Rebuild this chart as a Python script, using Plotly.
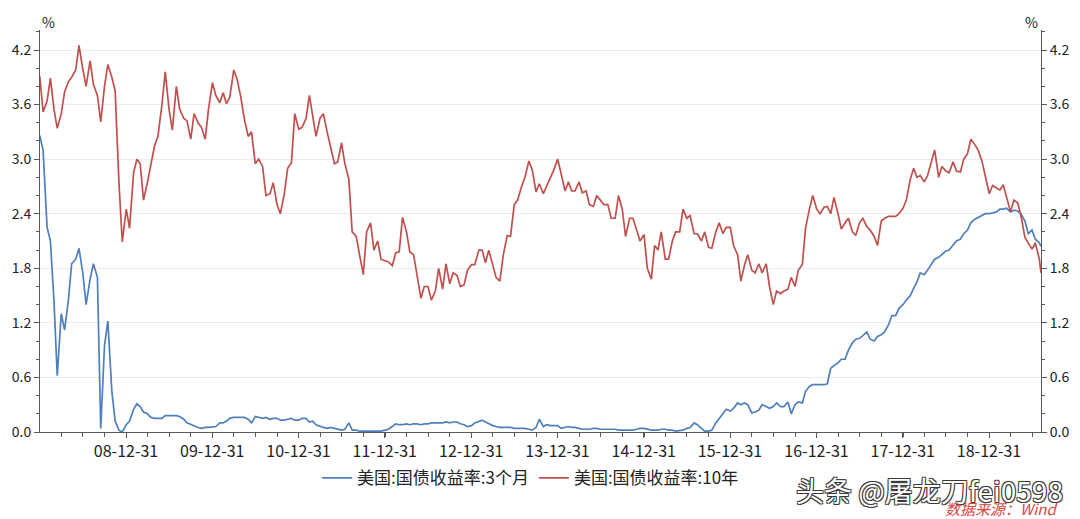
import pandas as pd
import plotly.graph_objects as go

# semi-monthly observation dates (1st and 15th), last point 2019-08-08
dates = list(pd.date_range("2008-01-01", "2019-08-01", freq="SMS")) + [pd.Timestamp("2019-08-08")]

# US Treasury 3-month yield (%)
y3m = [
    3.26, 3.10, 2.25, 2.10, 1.45, 0.62, 1.30, 1.12, 1.45, 1.85, 1.90, 2.02, 1.75, 1.40, 1.68, 1.85, 1.70, 0.04, 0.95, 1.22, 0.45, 0.12, 0.02, 0.00,  # 2008
    0.08, 0.12, 0.25, 0.31, 0.28, 0.22, 0.20, 0.16, 0.15, 0.15, 0.15, 0.18, 0.18, 0.18, 0.18, 0.17, 0.14, 0.10, 0.08, 0.07, 0.05, 0.04, 0.05, 0.05,  # 2009
    0.06, 0.06, 0.10, 0.10, 0.12, 0.15, 0.16, 0.16, 0.16, 0.16, 0.14, 0.10, 0.17, 0.16, 0.15, 0.16, 0.14, 0.15, 0.15, 0.13, 0.13, 0.14, 0.15, 0.13,  # 2010
    0.13, 0.15, 0.15, 0.11, 0.12, 0.08, 0.06, 0.05, 0.04, 0.05, 0.04, 0.03, 0.02, 0.03, 0.10, 0.02, 0.02, 0.01, 0.01, 0.01, 0.01, 0.01, 0.01, 0.01,  # 2011
    0.02, 0.03, 0.06, 0.09, 0.08, 0.08, 0.09, 0.08, 0.09, 0.09, 0.08, 0.09, 0.09, 0.10, 0.10, 0.10, 0.10, 0.11, 0.10, 0.11, 0.11, 0.09, 0.08, 0.06,  # 2012
    0.07, 0.10, 0.12, 0.13, 0.11, 0.09, 0.07, 0.06, 0.05, 0.05, 0.05, 0.05, 0.04, 0.04, 0.04, 0.04, 0.03, 0.02, 0.05, 0.14, 0.06, 0.08, 0.07, 0.07,  # 2013
    0.07, 0.04, 0.05, 0.06, 0.05, 0.05, 0.04, 0.03, 0.03, 0.03, 0.04, 0.04, 0.03, 0.03, 0.03, 0.03, 0.03, 0.02, 0.02, 0.02, 0.02, 0.02, 0.03, 0.04,  # 2014
    0.04, 0.03, 0.02, 0.02, 0.02, 0.03, 0.03, 0.02, 0.02, 0.01, 0.02, 0.02, 0.04, 0.05, 0.10, 0.08, 0.04, 0.01, 0.01, 0.02, 0.10, 0.15, 0.20, 0.25,  # 2015
    0.23, 0.26, 0.32, 0.30, 0.32, 0.30, 0.21, 0.22, 0.24, 0.30, 0.28, 0.26, 0.28, 0.32, 0.28, 0.28, 0.33, 0.20, 0.30, 0.33, 0.32, 0.45, 0.50, 0.52,  # 2016
    0.52, 0.52, 0.52, 0.53, 0.70, 0.73, 0.76, 0.80, 0.80, 0.90, 0.98, 1.02, 1.03, 1.06, 1.10, 1.02, 1.00, 1.05, 1.07, 1.10, 1.18, 1.28, 1.28, 1.36,  # 2017
    1.40, 1.45, 1.50, 1.58, 1.65, 1.75, 1.73, 1.78, 1.84, 1.90, 1.92, 1.95, 1.99, 2.00, 2.05, 2.10, 2.12, 2.18, 2.22, 2.30, 2.34, 2.36, 2.38, 2.40,  # 2018
    2.40, 2.41, 2.42, 2.45, 2.45, 2.46, 2.42, 2.44, 2.43, 2.40, 2.32, 2.18, 2.22, 2.12, 2.08, 2.04,  # 2019
]

# US Treasury 10-year yield (%)
y10y = [
    3.91, 3.52, 3.64, 3.89, 3.55, 3.34, 3.50, 3.74, 3.85, 3.90, 3.98, 4.25, 3.99, 3.80, 4.08, 3.82, 3.70, 3.41, 3.80, 4.04, 3.90, 3.75, 2.75, 2.09,  # 2008
    2.45, 2.24, 2.85, 3.00, 2.95, 2.55, 2.75, 2.92, 3.15, 3.25, 3.60, 3.96, 3.55, 3.32, 3.80, 3.55, 3.45, 3.42, 3.22, 3.50, 3.40, 3.35, 3.22, 3.55,  # 2009
    3.84, 3.70, 3.62, 3.73, 3.61, 3.68, 3.98, 3.88, 3.68, 3.45, 3.25, 3.30, 2.95, 3.00, 2.92, 2.60, 2.62, 2.74, 2.50, 2.40, 2.62, 2.90, 2.96, 3.50,  # 2010
    3.33, 3.35, 3.45, 3.70, 3.45, 3.25, 3.45, 3.50, 3.30, 3.15, 2.95, 2.97, 3.18, 2.95, 2.78, 2.20, 2.15, 1.95, 1.73, 2.20, 2.30, 2.00, 2.10, 1.90,  # 2011
    1.88, 1.87, 1.83, 1.97, 1.98, 2.36, 2.20, 1.98, 1.95, 1.75, 1.47, 1.60, 1.60, 1.45, 1.55, 1.80, 1.57, 1.85, 1.63, 1.75, 1.72, 1.60, 1.62, 1.78,  # 2012
    1.84, 1.84, 2.00, 2.00, 1.86, 2.00, 1.85, 1.70, 1.66, 1.94, 2.16, 2.15, 2.50, 2.55, 2.70, 2.80, 2.98, 2.88, 2.64, 2.73, 2.62, 2.70, 2.80, 2.88,  # 2013
    3.00, 2.85, 2.65, 2.75, 2.65, 2.65, 2.75, 2.63, 2.65, 2.50, 2.48, 2.60, 2.55, 2.50, 2.50, 2.35, 2.35, 2.60, 2.45, 2.15, 2.35, 2.35, 2.22, 2.10,  # 2014
    2.17, 1.80, 1.68, 2.05, 2.00, 2.20, 1.90, 1.90, 2.10, 2.20, 2.20, 2.45, 2.35, 2.38, 2.18, 2.18, 2.10, 2.20, 2.03, 2.02, 2.20, 2.30, 2.18, 2.25,  # 2015
    2.25, 2.05, 1.95, 1.66, 1.83, 1.95, 1.78, 1.75, 1.85, 1.75, 1.85, 1.60, 1.40, 1.55, 1.52, 1.55, 1.57, 1.70, 1.60, 1.78, 1.84, 2.25, 2.45, 2.60,  # 2016
    2.45, 2.40, 2.47, 2.48, 2.40, 2.58, 2.40, 2.23, 2.30, 2.35, 2.20, 2.16, 2.30, 2.35, 2.26, 2.22, 2.15, 2.05, 2.32, 2.35, 2.37, 2.37, 2.37, 2.40,  # 2017
    2.46, 2.55, 2.78, 2.90, 2.80, 2.82, 2.75, 2.82, 2.97, 3.10, 2.80, 2.92, 2.87, 2.85, 2.97, 2.87, 2.86, 3.00, 3.06, 3.22, 3.16, 3.10, 2.98, 2.82,  # 2018
    2.62, 2.71, 2.68, 2.66, 2.72, 2.59, 2.42, 2.55, 2.52, 2.38, 2.14, 2.08, 2.01, 2.08, 1.90, 1.75,  # 2019
]

tick_years = list(range(2008, 2019))
tick_vals = [f"{y}-12-31" for y in tick_years]
tick_text = [f"{y % 100:02d}-12-31" for y in tick_years]

name_3m = "美国:国债收益率:3个月"
name_10y = "美国:国债收益率:10年"

n = min(len(dates), len(y3m), len(y10y))
dates, y3m, y10y = dates[:n], y3m[:n], y10y[:n]

FONT = "Noto Sans CJK SC, Noto Sans, sans-serif"
AXC = "#595959"

fig = go.Figure()
fig.add_trace(go.Scatter(x=dates, y=y3m, name=name_3m, mode="lines",
                         line=dict(color="#4f7fbd", width=1.7), yaxis="y"))
fig.add_trace(go.Scatter(x=dates, y=y10y, name=name_10y, mode="lines",
                         line=dict(color="#c0504d", width=1.7), yaxis="y2"))

yaxis_common = dict(
    range=[0, 4.42], dtick=0.6, tick0=0, tickformat=".1f",
    ticks="outside", ticklen=5, tickcolor=AXC, tickwidth=1,
    showline=True, linecolor=AXC, linewidth=1, zeroline=False,
    tickfont=dict(family=FONT, size=14, color="#222"),
    minor=dict(dtick=0.2, ticks="outside", ticklen=3, tickcolor=AXC, showgrid=False),
    fixedrange=True,
)

fig.update_layout(
    width=1080, height=519,
    margin=dict(l=40, r=39, t=30, b=87),
    paper_bgcolor="white", plot_bgcolor="white",
    font=dict(family=FONT, color="#222"),
    showlegend=True,
    legend=dict(orientation="h", x=0.49, xanchor="center", y=-0.115, yanchor="middle",
                font=dict(family=FONT, size=17, color="#222"), itemwidth=30,
                bgcolor="rgba(0,0,0,0)"),
    xaxis=dict(
        type="date", range=["2008-01-02", "2019-08-08"],
        tickmode="array", tickvals=tick_vals, ticktext=tick_text,
        ticks="outside", ticklen=5, tickcolor=AXC,
        showline=True, linecolor=AXC, linewidth=1, showgrid=False, zeroline=False,
        tickfont=dict(family=FONT, size=16, color="#222"),
        minor=dict(tick0="2008-01-01", dtick="M3", ticks="outside", ticklen=4,
                   tickcolor=AXC, showgrid=False),
        fixedrange=True,
    ),
    yaxis=dict(**yaxis_common, side="left", showgrid=True, gridcolor="#ececec", gridwidth=1),
    yaxis2=dict(**yaxis_common, side="right", overlaying="y", showgrid=False),
    annotations=[
        dict(text="%", xref="paper", yref="paper", x=0, y=1, xanchor="left", yanchor="bottom",
             xshift=0, yshift=-4, showarrow=False, font=dict(family=FONT, size=14, color="#222")),
        dict(text="%", xref="paper", yref="paper", x=1, y=1, xanchor="right", yanchor="bottom",
             xshift=-1, yshift=-4, showarrow=False, font=dict(family=FONT, size=14, color="#222")),
        dict(text="头条 @屠龙刀fei0598", xref="paper", yref="paper", x=1.024, y=-0.145,
             xanchor="right", yanchor="middle", showarrow=False,
             font=dict(family=FONT, size=28, color="#ffffff",
                       shadow="-1px -1px 0 #3a3a3a, 1px -1px 0 #3a3a3a, -1px 1px 0 #3a3a3a, 1px 1px 0 #3a3a3a")),
        dict(text="数据来源：Wind", xref="paper", yref="paper", x=1.018, y=-0.19,
             xanchor="right", yanchor="middle", showarrow=False,
             font=dict(family=FONT, size=15, color="#d8463f", style="italic")),
    ],
)

fig.write_html("out.html", config={"displayModeBar": False},
               post_script="document.body.style.margin='0';document.body.style.overflow='hidden';")
